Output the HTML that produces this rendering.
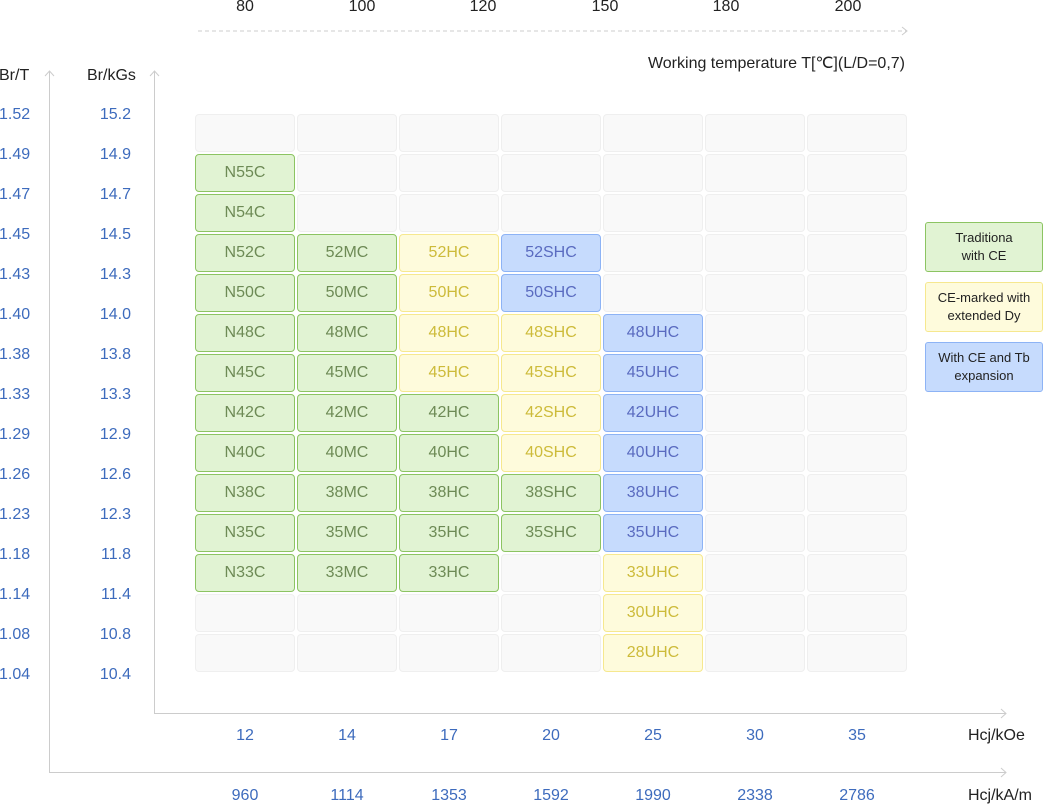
<!DOCTYPE html>
<html><head><meta charset="utf-8"><style>
body{margin:0;width:1044px;height:805px;background:#fff;font-family:"Liberation Sans",sans-serif;position:relative;overflow:hidden}
.a{position:absolute}
.t{position:absolute;font-size:16px;color:#3d6bbd;line-height:18px}
.k{position:absolute;font-size:16px;color:#222;line-height:18px}
.c{width:60px;text-align:center}
#g{position:absolute;left:195px;top:114px;display:grid;grid-template-columns:repeat(7,100px);grid-auto-rows:38px;column-gap:2px;row-gap:2px}
#g div{box-sizing:border-box;border:1px solid #efefef;background:#f9f9f9;border-radius:4px;font-size:16px;display:flex;align-items:center;justify-content:center}
#g .g,.lg.g{background:#e1f3d3;border-color:#8cc462;color:#6d8a55}
#g .y,.lg.y{background:#fefbdc;border-color:#f6e88f;color:#cdbb3a}
#g .b,.lg.b{background:#c6dbfd;border-color:#8db3f5;color:#5a6bc0}
.lg{position:absolute;left:925px;width:118px;height:50px;box-sizing:border-box;border:1px solid;border-radius:3px;font-size:13px;color:#222!important;display:flex;align-items:center;justify-content:center;text-align:center;line-height:18px}
.rl{text-align:right;width:40px}
</style></head><body>
<svg class="a" style="left:0;top:0" width="1044" height="805">
<line x1="198" y1="31" x2="906" y2="31" stroke="#ccc" stroke-dasharray="4,3"/>
<polyline points="902,27 907,31 902,35" fill="none" stroke="#ccc"/>
<line x1="49.5" y1="71" x2="49.5" y2="772" stroke="#ccc"/>
<polyline points="45,76 49.5,71 54,76" fill="none" stroke="#ccc"/>
<line x1="49" y1="772.5" x2="1006" y2="772.5" stroke="#ccc"/>
<polyline points="1001,768 1006,772.5 1001,777" fill="none" stroke="#ccc"/>
<line x1="154.5" y1="71" x2="154.5" y2="713" stroke="#ccc"/>
<polyline points="150,76 154.5,71 159,76" fill="none" stroke="#ccc"/>
<line x1="154" y1="713.5" x2="1006" y2="713.5" stroke="#ccc"/>
<polyline points="1001,709 1006,713.5 1001,718" fill="none" stroke="#ccc"/>
</svg>
<div class="k c" style="left:215px;top:-2px">80</div>
<div class="k c" style="left:332px;top:-2px">100</div>
<div class="k c" style="left:453px;top:-2px">120</div>
<div class="k c" style="left:575px;top:-2px">150</div>
<div class="k c" style="left:696px;top:-2px">180</div>
<div class="k c" style="left:818px;top:-2px">200</div>
<div class="k" style="left:605px;top:55px;width:300px;text-align:right">Working temperature T[℃](L/D=0,7)</div>
<div class="k" style="left:-1px;top:67px">Br/T</div>
<div class="k" style="left:87px;top:67px">Br/kGs</div>
<div class="t" style="left:-1px;top:106px">1.52</div><div class="t rl" style="left:91px;top:106px">15.2</div>
<div class="t" style="left:-1px;top:146px">1.49</div><div class="t rl" style="left:91px;top:146px">14.9</div>
<div class="t" style="left:-1px;top:186px">1.47</div><div class="t rl" style="left:91px;top:186px">14.7</div>
<div class="t" style="left:-1px;top:226px">1.45</div><div class="t rl" style="left:91px;top:226px">14.5</div>
<div class="t" style="left:-1px;top:266px">1.43</div><div class="t rl" style="left:91px;top:266px">14.3</div>
<div class="t" style="left:-1px;top:306px">1.40</div><div class="t rl" style="left:91px;top:306px">14.0</div>
<div class="t" style="left:-1px;top:346px">1.38</div><div class="t rl" style="left:91px;top:346px">13.8</div>
<div class="t" style="left:-1px;top:386px">1.33</div><div class="t rl" style="left:91px;top:386px">13.3</div>
<div class="t" style="left:-1px;top:426px">1.29</div><div class="t rl" style="left:91px;top:426px">12.9</div>
<div class="t" style="left:-1px;top:466px">1.26</div><div class="t rl" style="left:91px;top:466px">12.6</div>
<div class="t" style="left:-1px;top:506px">1.23</div><div class="t rl" style="left:91px;top:506px">12.3</div>
<div class="t" style="left:-1px;top:546px">1.18</div><div class="t rl" style="left:91px;top:546px">11.8</div>
<div class="t" style="left:-1px;top:586px">1.14</div><div class="t rl" style="left:91px;top:586px">11.4</div>
<div class="t" style="left:-1px;top:626px">1.08</div><div class="t rl" style="left:91px;top:626px">10.8</div>
<div class="t" style="left:-1px;top:666px">1.04</div><div class="t rl" style="left:91px;top:666px">10.4</div>
<div id="g">
<div></div><div></div><div></div><div></div><div></div><div></div><div></div>
<div class="g">N55C</div><div></div><div></div><div></div><div></div><div></div><div></div>
<div class="g">N54C</div><div></div><div></div><div></div><div></div><div></div><div></div>
<div class="g">N52C</div><div class="g">52MC</div><div class="y">52HC</div><div class="b">52SHC</div><div></div><div></div><div></div>
<div class="g">N50C</div><div class="g">50MC</div><div class="y">50HC</div><div class="b">50SHC</div><div></div><div></div><div></div>
<div class="g">N48C</div><div class="g">48MC</div><div class="y">48HC</div><div class="y">48SHC</div><div class="b">48UHC</div><div></div><div></div>
<div class="g">N45C</div><div class="g">45MC</div><div class="y">45HC</div><div class="y">45SHC</div><div class="b">45UHC</div><div></div><div></div>
<div class="g">N42C</div><div class="g">42MC</div><div class="g">42HC</div><div class="y">42SHC</div><div class="b">42UHC</div><div></div><div></div>
<div class="g">N40C</div><div class="g">40MC</div><div class="g">40HC</div><div class="y">40SHC</div><div class="b">40UHC</div><div></div><div></div>
<div class="g">N38C</div><div class="g">38MC</div><div class="g">38HC</div><div class="g">38SHC</div><div class="b">38UHC</div><div></div><div></div>
<div class="g">N35C</div><div class="g">35MC</div><div class="g">35HC</div><div class="g">35SHC</div><div class="b">35UHC</div><div></div><div></div>
<div class="g">N33C</div><div class="g">33MC</div><div class="g">33HC</div><div></div><div class="y">33UHC</div><div></div><div></div>
<div></div><div></div><div></div><div></div><div class="y">30UHC</div><div></div><div></div>
<div></div><div></div><div></div><div></div><div class="y">28UHC</div><div></div><div></div>
</div>
<div class="lg g" style="top:222px">Traditiona<br>with CE</div>
<div class="lg y" style="top:282px">CE-marked with<br>extended Dy</div>
<div class="lg b" style="top:342px">With CE and Tb<br>expansion</div>
<div class="t c" style="left:215px;top:727px">12</div>
<div class="t c" style="left:317px;top:727px">14</div>
<div class="t c" style="left:419px;top:727px">17</div>
<div class="t c" style="left:521px;top:727px">20</div>
<div class="t c" style="left:623px;top:727px">25</div>
<div class="t c" style="left:725px;top:727px">30</div>
<div class="t c" style="left:827px;top:727px">35</div>
<div class="k" style="left:968px;top:727px">Hcj/kOe</div>
<div class="t c" style="left:215px;top:787px">960</div>
<div class="t c" style="left:317px;top:787px">1114</div>
<div class="t c" style="left:419px;top:787px">1353</div>
<div class="t c" style="left:521px;top:787px">1592</div>
<div class="t c" style="left:623px;top:787px">1990</div>
<div class="t c" style="left:725px;top:787px">2338</div>
<div class="t c" style="left:827px;top:787px">2786</div>
<div class="k" style="left:968px;top:787px">Hcj/kA/m</div>
</body></html>
